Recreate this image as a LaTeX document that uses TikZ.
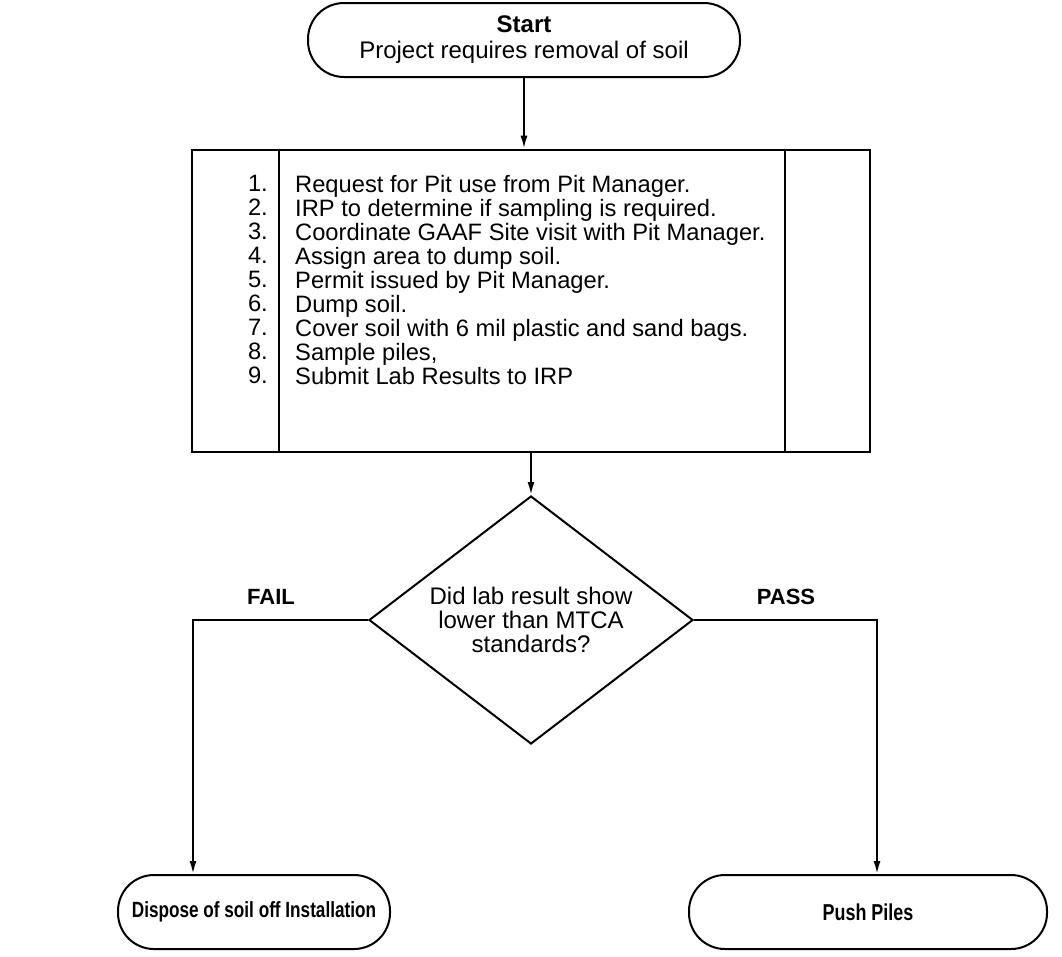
\documentclass[tikz,border=0pt]{standalone}
\usepackage{fontspec}
\setmainfont{Liberation Sans}
\newfontfamily\schmal[FakeStretch=0.78]{Liberation Sans}
\usepackage{tikz}
\usetikzlibrary{arrows.meta, positioning, shapes.geometric}

\tikzset{
  ablauf/.style={draw, line width=2pt, rounded corners=36pt, minimum height=74pt, align=center},
  kasten/.style={draw, line width=2.6pt, minimum width=678pt, minimum height=302pt},
  raute/.style={draw, diamond, aspect=1.35, line width=2pt, minimum width=324pt, minimum height=248pt, align=center, inner sep=0pt},
  pfeil/.style={-{Latex[length=13pt,width=7pt]}, line width=2pt},
  linie/.style={line width=2.4pt},
}

\begin{document}
\begin{tikzpicture}[x=1pt, y=1pt, every node/.style={font=\fontsize{23.7}{24}\selectfont}]
\useasboundingbox (0,0) rectangle (1062,-956);

% Start
\node[ablauf, minimum width=432pt, font=\fontsize{24}{26}\selectfont] (start) at (524,-40) {\textbf{Start}\\ Project requires removal of soil};

% Schritte 1--9
\node[kasten] (liste) at (531,-301) {};
\draw[linie] (279,-150) -- (279,-452);
\draw[linie] (785,-150) -- (785,-452);
\node[anchor=north east, align=right, inner sep=0pt] (nummern) at (268,-175) {1.\\ 2.\\ 3.\\ 4.\\ 5.\\ 6.\\ 7.\\ 8.\\ 9.};
\node[anchor=north west, align=left, inner sep=0pt] (schritte) at (295,-175) {Request for Pit use from Pit Manager.\\
IRP to determine if sampling is required.\\
Coordinate GAAF Site visit with Pit Manager.\\
Assign area to dump soil.\\
Permit issued by Pit Manager.\\
Dump soil.\\
Cover soil with 6 mil plastic and sand bags.\\
Sample piles,\\
Submit Lab Results to IRP};

% Entscheidung
\node[raute, font=\fontsize{24}{24}\selectfont] (frage) at (531,-620) {Did lab result show\\ lower than MTCA\\ standards?};
\node[font=\bfseries\fontsize{22}{24}\selectfont] (fail) at (271,-597) {FAIL};
\node[font=\bfseries\fontsize{22}{24}\selectfont] (pass) at (786,-597) {PASS};

% Ende
\node[ablauf, minimum width=272pt, font=\schmal\bfseries\fontsize{22}{24}\selectfont] (entsorgen) at (254,-912) {Dispose of soil off Installation};
\node[ablauf, minimum width=358pt, font=\schmal\bfseries\fontsize{23}{24}\selectfont] (schieben) at (868,-912) {Push Piles};

% Verbindungen
\coordinate (knickL) at (193,-620);
\coordinate (knickR) at (877,-620);
\draw[pfeil] (start.south) -- (start.south |- liste.north);
\draw[pfeil] (frage.north |- liste.south) -- (frage.north);
\draw[pfeil] (frage.west) -- (knickL) -- (knickL |- entsorgen.north);
\draw[pfeil] (frage.east) -- (knickR) -- (knickR |- schieben.north);

\end{tikzpicture}
\end{document}
